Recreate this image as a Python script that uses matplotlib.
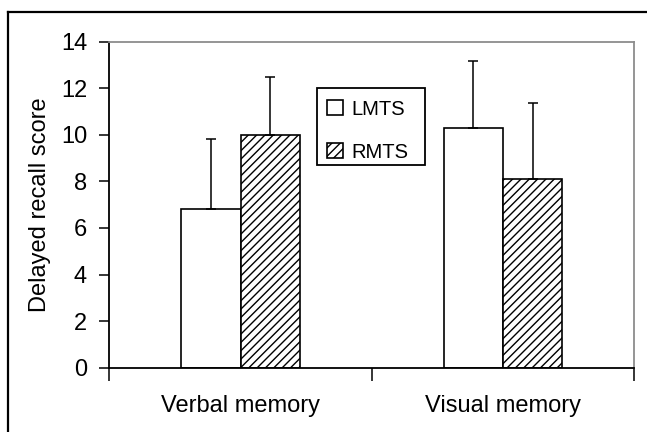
import matplotlib
matplotlib.use("Agg")
import matplotlib.pyplot as plt
from matplotlib.lines import Line2D
from matplotlib.patches import Rectangle
import numpy as np

plt.rcParams['font.family'] = ['Liberation Sans', 'DejaVu Sans']
plt.rcParams['hatch.linewidth'] = 1.0

# data
categories = ["Verbal memory", "Visual memory"]
groups = ["LMTS", "RMTS"]
lmts_mean = [6.8, 10.3]
lmts_err = [3.0, 2.85]
rmts_mean = [10.0, 8.1]
rmts_err = [2.5, 3.25]
y_ticks = [0, 2, 4, 6, 8, 10, 12, 14]

fig = plt.figure(figsize=(6.47, 4.32), dpi=100)
ax = fig.add_axes([109.3 / 647, 1 - 367.7 / 432, 524.9 / 647, 326 / 432])

x = np.arange(len(categories))
w = 0.225
err_kw = dict(ecolor='black', elinewidth=1.1, capsize=3.6, capthick=1.1)

ax.bar(x - w / 2, lmts_mean, w, color='white', edgecolor='black', linewidth=1.2,
       yerr=[np.zeros(2), lmts_err], error_kw=err_kw, label=groups[0], zorder=2)
ax.bar(x + w / 2, rmts_mean, w, color='white', edgecolor='black', linewidth=1.2,
       hatch='////', yerr=[np.zeros(2), rmts_err], error_kw=err_kw, label=groups[1], zorder=2)

ax.set_xlim(-0.5, 1.5)
ax.set_ylim(0, 14)
ax.set_yticks(y_ticks)
ax.set_xticks([-0.5, 0.5, 1.5])
ax.set_xticklabels([])
ax.set_xticks(x, minor=True)
ax.set_xticklabels(categories, minor=True)
ax.tick_params(axis='x', which='minor', length=0, pad=20, labelsize=17)
ax.tick_params(axis='x', which='major', length=9, width=1.1, direction='out')
ax.tick_params(axis='y', length=7, width=1.1, direction='out', pad=9, labelsize=17)

for s in ['top', 'right']:
    ax.spines[s].set_color('#8c8c8c')
    ax.spines[s].set_linewidth(1.3)
for s in ['left', 'bottom']:
    ax.spines[s].set_linewidth(1.3)

ax.set_ylabel("Delayed recall score", fontsize=17, labelpad=7)

# legend box drawn separately, the entries sit inside it
ax.add_patch(Rectangle((0.3957, 0.6218), 0.2055, 0.2362, transform=ax.transAxes,
                       facecolor='white', edgecolor='black', linewidth=1.3, zorder=4))
leg = ax.legend(loc='center left', bbox_to_anchor=(0.4147, 0.727), fontsize=14.5,
                frameon=False, handlelength=0.8, handleheight=0.8, handletextpad=0.4,
                borderpad=0, labelspacing=1.2, borderaxespad=0)
leg.set_zorder(5)

# outer frame (only top/left visible in the reference)
fig.add_artist(Line2D([8 / 647, 1], [1 - 12 / 432, 1 - 12 / 432], color='black', lw=1.6))
fig.add_artist(Line2D([8 / 647, 8 / 647], [0, 1 - 12 / 432], color='black', lw=1.6))

fig.savefig("out.png", dpi=100)
